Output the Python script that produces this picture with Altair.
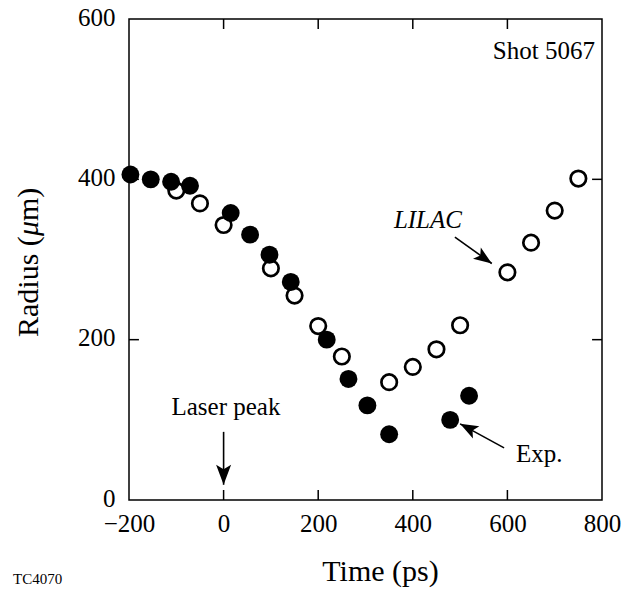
import altair as alt
import pandas as pd

# ---- data ----
lilac_time = [-100, -50, 0, 100, 150, 200, 250, 350, 400, 450, 500, 600, 650, 700, 750]
lilac_radius = [386, 370, 343, 289, 255, 217, 179, 147, 166, 188, 218, 284, 321, 361, 401]

exp_time = [-197, -154, -111, -71, 15, 56, 97, 142, 218, 264, 304, 350, 479, 519]
exp_radius = [406, 400, 397, 392, 358, 331, 306, 272, 200, 151, 118, 82, 100, 130]

x_tick_values = [-200, 0, 200, 400, 600, 800]
y_tick_values = [0, 200, 400, 600]
inner_x_ticks = [0, 200, 400, 600]
inner_y_ticks = [200, 400]

# arrows: name, tail (t, r), tip (t, r), head angle
arrow_names = ["laser", "lilac", "exp"]
arrow_t0 = [0, 489, 593]
arrow_r0 = [85, 328, 65]
arrow_t1 = [0, 567, 500]
arrow_r1 = [19, 295, 95]
arrow_angle = [180, 125, 298]
arrow_size = [400, 330, 330]

# y title pieces (the mu is italic in the reference)
ytitle_parts = ["Radius (", "μ", "m)"]
ytitle_styles = ["normal", "italic", "normal"]
ytitle_offsets = [318, 217, 202]

FONT = "Liberation Serif"
X_DOM = [-200, 800]
Y_DOM = [0, 600]
TICK_X = 21    # inward tick length in time units (~10 px)
TICK_Y = 12.5  # inward tick length in radius units (~10 px)

xs = alt.Scale(domain=X_DOM, nice=False, zero=False)
ys = alt.Scale(domain=Y_DOM, nice=False, zero=False)

x_axis = alt.Axis(values=x_tick_values, title="Time (ps)", ticks=False, domain=False,
                  grid=False, labelFlush=False, labelOverlap=False, labelPadding=11,
                  labelFont=FONT, labelFontSize=25, labelColor="black",
                  titleFont=FONT, titleFontSize=30, titleFontWeight="normal",
                  titleColor="black", titleX=251, titleY=80,
                  titleBaseline="alphabetic", titleAlign="center")
y_axis = alt.Axis(values=y_tick_values, title=None, ticks=False, domain=False,
                  grid=False, labelFlush=False, labelOverlap=False, labelPadding=14,
                  labelOffset=-2,
                  labelFont=FONT, labelFontSize=25, labelColor="black")


def X(field):
    return alt.X(f"{field}:Q", scale=xs, axis=x_axis)


def Y(field):
    return alt.Y(f"{field}:Q", scale=ys, axis=y_axis)


lilac_df = pd.DataFrame({"t": lilac_time, "r": lilac_radius})
exp_df = pd.DataFrame({"t": exp_time, "r": exp_radius})

open_pts = alt.Chart(lilac_df).mark_point(
    shape="circle", size=240, fill="white", stroke="black", strokeWidth=2.7, opacity=1
).encode(x=X("t"), y=Y("r"))

filled_pts = alt.Chart(exp_df).mark_point(
    shape="circle", size=320, filled=True, color="black", opacity=1
).encode(x=X("t"), y=Y("r"))

# inward ticks on all four sides
bx = pd.DataFrame({"t": inner_x_ticks, "r0": [Y_DOM[0]] * 4, "r1": [Y_DOM[0] + TICK_Y] * 4})
tx = pd.DataFrame({"t": inner_x_ticks, "r0": [Y_DOM[1]] * 4, "r1": [Y_DOM[1] - TICK_Y] * 4})
ly = pd.DataFrame({"r": inner_y_ticks, "t0": [X_DOM[0]] * 2, "t1": [X_DOM[0] + TICK_X] * 2})
ry = pd.DataFrame({"r": inner_y_ticks, "t0": [X_DOM[1]] * 2, "t1": [X_DOM[1] - TICK_X] * 2})

tick_layers = []
for df in (bx, tx):
    tick_layers.append(alt.Chart(df).mark_rule(color="black", strokeWidth=1.5).encode(
        x=X("t"), y=Y("r0"), y2="r1:Q"))
for df in (ly, ry):
    tick_layers.append(alt.Chart(df).mark_rule(color="black", strokeWidth=1.5).encode(
        x=X("t0"), x2="t1:Q", y=Y("r")))

arrow_df = pd.DataFrame({"name": arrow_names, "t0": arrow_t0, "r0": arrow_r0,
                         "t1": arrow_t1, "r1": arrow_r1, "angle": arrow_angle,
                         "size": arrow_size})

arrow_lines = alt.Chart(arrow_df).mark_rule(color="black", strokeWidth=1.6).encode(
    x=X("t0"), y=Y("r0"), x2="t1:Q", y2="r1:Q")

HEAD = "M0,0 L0.75,2 L0,1.55 L-0.75,2 Z"
arrow_heads = alt.Chart(arrow_df).mark_point(
    shape=HEAD, filled=True, color="black", opacity=1, strokeWidth=0
).encode(x=X("t1"), y=Y("r1"),
         angle=alt.Angle("angle:Q", scale=None),
         size=alt.Size("size:Q", scale=None, legend=None))


def label(text, t, r, align="center", baseline="alphabetic", style="normal", size=25):
    df = pd.DataFrame({"t": [t], "r": [r], "label": [text]})
    return alt.Chart(df).mark_text(
        font=FONT, fontSize=size, fontStyle=style, align=align, baseline=baseline,
        color="black"
    ).encode(x=X("t"), y=Y("r"), text="label:N")


texts = [
    label("Shot 5067", 785, 550, align="right"),
    label("LILAC", 432, 339, style="italic"),
    label("Exp.", 618, 48, align="left"),
    label("Laser peak", 5, 106),
]

ytitle_layers = []
for part, style, off in zip(ytitle_parts, ytitle_styles, ytitle_offsets):
    ytitle_layers.append(
        alt.Chart(pd.DataFrame({"label": [part]})).mark_text(
            font=FONT, fontSize=30, fontStyle=style, align="left",
            baseline="alphabetic", angle=270, color="black"
        ).encode(x=alt.value(-91), y=alt.value(off), text="label:N")
    )

tc = alt.Chart(pd.DataFrame({"label": ["TC4070"]})).mark_text(
    font=FONT, fontSize=15, align="left", baseline="alphabetic", color="black"
).encode(x=alt.value(-116), y=alt.value(565), text="label:N")

chart = alt.layer(
    open_pts, filled_pts, *tick_layers, arrow_lines, arrow_heads, *texts,
    *ytitle_layers, tc
).properties(
    width=473, height=481,
    padding={"left": 129, "top": 19, "right": 34, "bottom": 89},
    autosize=alt.AutoSizeParams(type="none"),
    background="white",
).configure_view(stroke="black", strokeWidth=1.5)

chart.save("out.html", embed_options={"renderer": "svg", "actions": False})
